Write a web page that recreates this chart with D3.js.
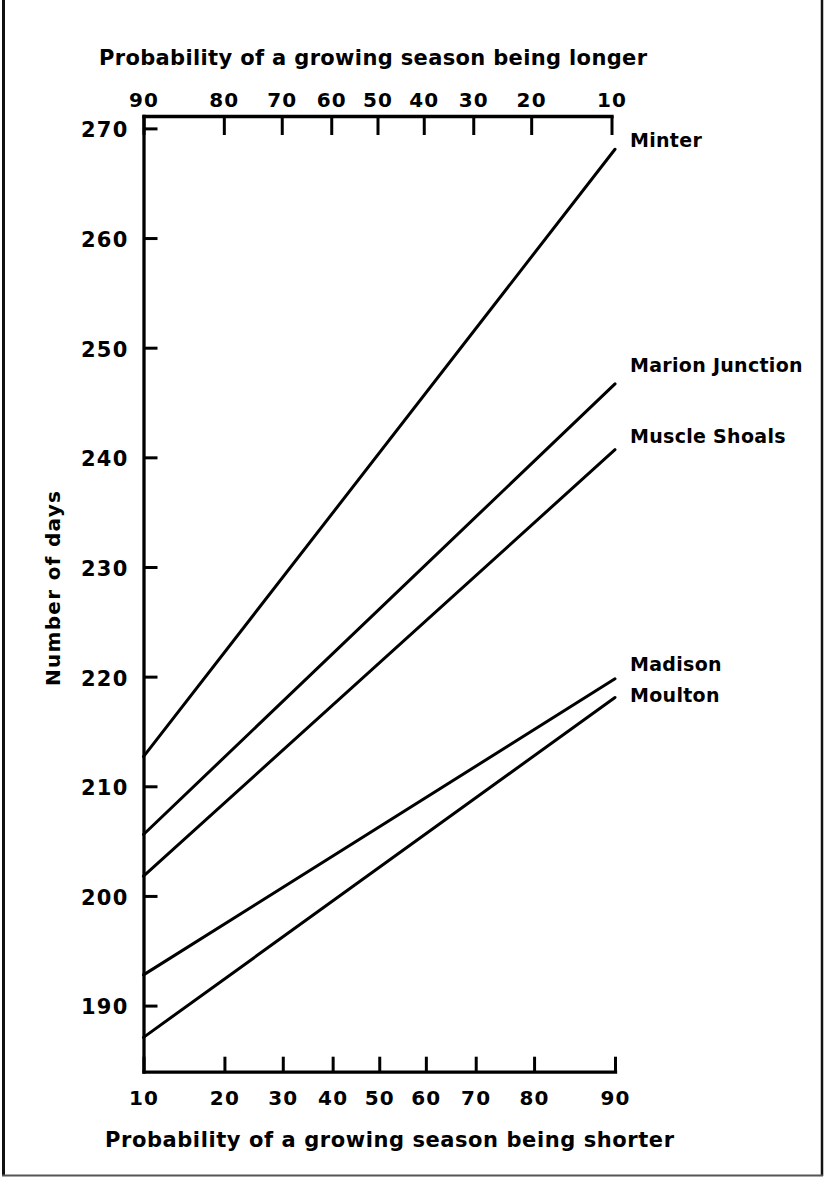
<!DOCTYPE html>
<html>
<head>
<meta charset="utf-8">
<script src="https://cdn.jsdelivr.net/npm/d3@7"></script>
<style>
  html, body { margin: 0; padding: 0; background: #fff; }
  svg { display: block; font-family: "DejaVu Sans", sans-serif; font-weight: bold; }
</style>
</head>
<body>
<svg id="chart" width="826" height="1178"></svg>
<script>
// Growing-season length (days) on normal-probability paper, by station
const stations = ["Minter", "Marion Junction", "Muscle Shoals", "Madison", "Moulton"];
const daysAtP10 = [212.7, 205.6, 201.8, 192.8, 187.1];
const daysAtP90 = [268.1, 246.7, 240.7, 219.8, 218.1];
const probEnds = [10, 90];
const probTicks = [10, 20, 30, 40, 50, 60, 70, 80, 90];
const dayTicks = [190, 200, 210, 220, 230, 240, 250, 260, 270];
const dayExtent = [183.97, 271.13];

// inverse standard-normal CDF (Acklam's rational approximation), p in percent
function probit(pct) {
  const p = pct / 100;
  const a = [-3.969683028665376e+01, 2.209460984245205e+02, -2.759285104469687e+02, 1.383577518672690e+02, -3.066479806614716e+01, 2.506628277459239e+00];
  const b = [-5.447609879822406e+01, 1.615858368580409e+02, -1.556989798598866e+02, 6.680131188771972e+01, -1.328068155288572e+01];
  const c = [-7.784894002430293e-03, -3.223964580411365e-01, -2.400758277161838e+00, -2.549732539343734e+00, 4.374664141464968e+00, 2.938163982698783e+00];
  const d = [7.784695709041462e-03, 3.224671290700398e-01, 2.445134137142996e+00, 3.754408661907416e+00];
  const pl = 0.02425;
  let q, r;
  if (p < pl) {
    q = Math.sqrt(-2 * Math.log(p));
    return (((((c[0]*q+c[1])*q+c[2])*q+c[3])*q+c[4])*q+c[5]) / ((((d[0]*q+d[1])*q+d[2])*q+d[3])*q+1);
  } else if (p <= 1 - pl) {
    q = p - 0.5; r = q * q;
    return (((((a[0]*r+a[1])*r+a[2])*r+a[3])*r+a[4])*r+a[5])*q / (((((b[0]*r+b[1])*r+b[2])*r+b[3])*r+b[4])*r+1);
  } else {
    q = Math.sqrt(-2 * Math.log(1 - p));
    return -(((((c[0]*q+c[1])*q+c[2])*q+c[3])*q+c[4])*q+c[5]) / ((((d[0]*q+d[1])*q+d[2])*q+d[3])*q+1);
  }
}

const svg = d3.select("#chart");
const plotLeft = 143.5, plotRight = 615, plotTop = 116, plotBottom = 1071.7;

// shorter-season probability (bottom) and longer-season probability (top)
const xShort = d3.scaleLinear().domain([probit(10), probit(90)]).range([plotLeft, plotRight]);
const xLong = d3.scaleLinear().domain([probit(90), probit(10)]).range([plotLeft, 611.5]);
const y = d3.scaleLinear().domain(dayExtent).range([plotBottom, plotTop]);

// outer frame
const frame = svg.append("g").attr("stroke", "#111").attr("fill", "none");
frame.append("line").attr("x1", 3.5).attr("x2", 3.5).attr("y1", 0).attr("y2", 1176).attr("stroke-width", 3);
frame.append("line").attr("x1", 822).attr("x2", 822).attr("y1", 0).attr("y2", 1176).attr("stroke-width", 2.5);
frame.append("line").attr("x1", 2).attr("x2", 823).attr("y1", 1175.5).attr("y2", 1175.5).attr("stroke-width", 2).attr("stroke", "#555");

function styleAxis(g, fontSize) {
  g.select(".domain").attr("stroke", "#000").attr("stroke-width", 3.3).attr("stroke-linecap", "square");
  g.selectAll(".tick line").attr("stroke", "#000").attr("stroke-width", 3);
  g.selectAll(".tick text").attr("fill", "#000").attr("font-size", fontSize)
    .attr("font-family", "DejaVu Sans, sans-serif").attr("font-weight", "bold").attr("letter-spacing", 1.2);
}

// bottom axis
const gBottom = svg.append("g").attr("transform", `translate(0,${plotBottom})`)
  .call(d3.axisBottom(xShort).tickValues(probTicks.map(probit))
    .tickFormat((z, i) => probTicks[i]).tickSizeInner(-15).tickSizeOuter(0).tickPadding(19));
styleAxis(gBottom, 20);

// top axis
const gTop = svg.append("g").attr("transform", `translate(0,${plotTop})`)
  .call(d3.axisTop(xLong).tickValues(probTicks.map(probit))
    .tickFormat((z, i) => probTicks[i]).tickSizeInner(-19).tickSizeOuter(0).tickPadding(9));
styleAxis(gTop, 20);

// left axis
const gLeft = svg.append("g").attr("transform", `translate(${plotLeft},0)`)
  .call(d3.axisLeft(y).tickValues(dayTicks).tickSizeInner(-14).tickSizeOuter(0).tickPadding(15));
styleAxis(gLeft, 21);
gLeft.selectAll(".tick text").attr("dy", "0.4em");

// station lines
const line = d3.line().x(d => xShort(probit(d[0]))).y(d => y(d[1]));
stations.forEach((name, i) => {
  const pts = [[probEnds[0], daysAtP10[i]], [probEnds[1], daysAtP90[i]]];
  svg.append("path").datum(pts).attr("d", line)
    .attr("fill", "none").attr("stroke", "#000").attr("stroke-width", 3).attr("stroke-linecap", "round");
});

// station names beside the line ends
const labelDy = [-2.6, -11.6, -6.7, -8.3, 4.4];
svg.append("g").selectAll("text").data(stations).join("text")
  .attr("x", xShort(probit(90)) + 15)
  .attr("y", (d, i) => y(daysAtP90[i]) + labelDy[i])
  .attr("font-size", 19).attr("letter-spacing", 0.3).attr("fill", "#000")
  .text(d => d);

// axis titles
svg.append("text").attr("x", 99).attr("y", 65).attr("font-size", 21)
  .attr("textLength", 548).attr("lengthAdjust", "spacing")
  .text("Probability of a growing season being longer");
svg.append("text").attr("x", 105).attr("y", 1146.5).attr("font-size", 21)
  .attr("textLength", 569).attr("lengthAdjust", "spacing")
  .text("Probability of a growing season being shorter");
svg.append("text").attr("transform", "translate(59.5,686) rotate(-90)").attr("font-size", 20)
  .attr("textLength", 195).attr("lengthAdjust", "spacing")
  .text("Number of days");
</script>
</body>
</html>
